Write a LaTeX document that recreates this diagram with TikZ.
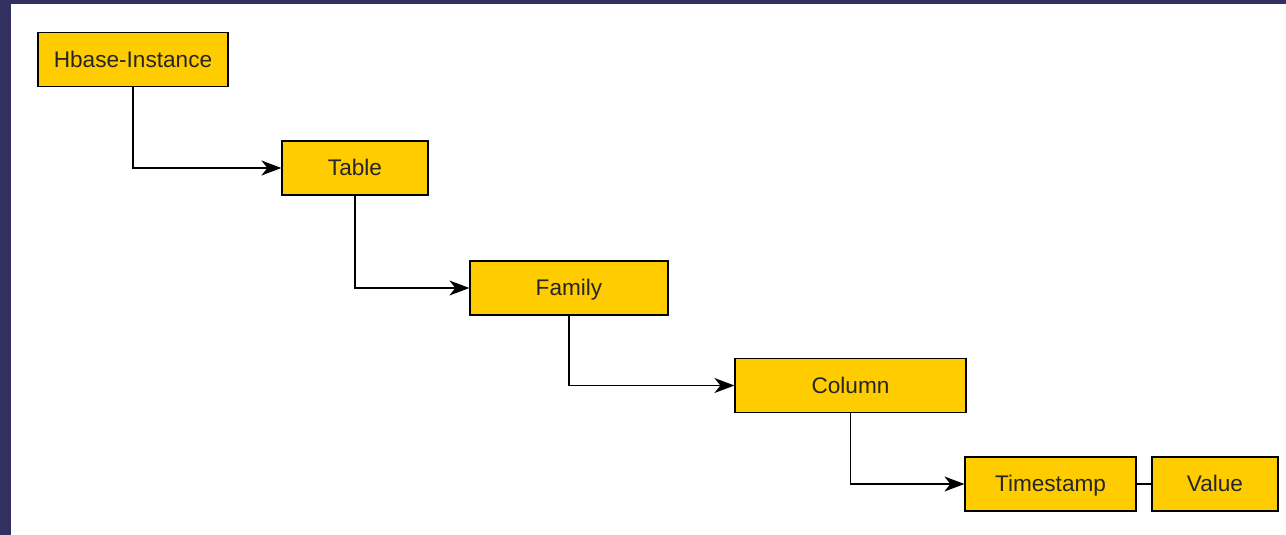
\documentclass[tikz,border=0pt]{standalone}
\usepackage{fontspec}
\setmainfont{Liberation Sans}
\usetikzlibrary{arrows.meta,positioning}
\definecolor{frameblue}{RGB}{49,48,96}
\definecolor{boxyellow}{RGB}{255,204,0}

\begin{document}
\begin{tikzpicture}[x=0.5pt,y=-0.5pt,>={Stealth[length=10pt,width=7.5pt,inset=3pt]},semithick]
		\tikzstyle{every node}=[font=\fontsize{11.3}{13}\selectfont,text=black!85]
		\tikzstyle{hbox}=[draw=black,fill=boxyellow,rectangle,minimum height=27pt,inner sep=0pt,text height=9.1pt,text depth=1.4pt,line width=0.6pt]
		\useasboundingbox (0,0) rectangle (1286,535);
		\fill[frameblue] (0,0) rectangle (1286,4);
		\fill[frameblue] (0,0) rectangle (11,535);
		\node[hbox,minimum width=95pt]     (I) at (133,59.5)   {Hbase-Instance};
		\node[hbox,minimum width=73pt]     (T) at (355,168)    {Table};
		\node[hbox,minimum width=99pt]     (F) at (569,288)    {Family};
		\node[hbox,minimum width=115.5pt]  (C) at (850.5,385.5) {Column};
		\node[hbox,minimum width=85.5pt]   (S) at (1050.5,484) {Timestamp};
		\node[hbox,minimum width=63pt]     (V) at (1215,484)   {Value};
		\draw[->] (I.south) |- (T.west);
		\draw[->] (T.south) |- (F.west);
		\draw[->] (F.south) |- (C.west);
		\draw[->] (C.south) |- (S.west);
		\draw (S) -- (V);
	\end{tikzpicture}
\end{document}
